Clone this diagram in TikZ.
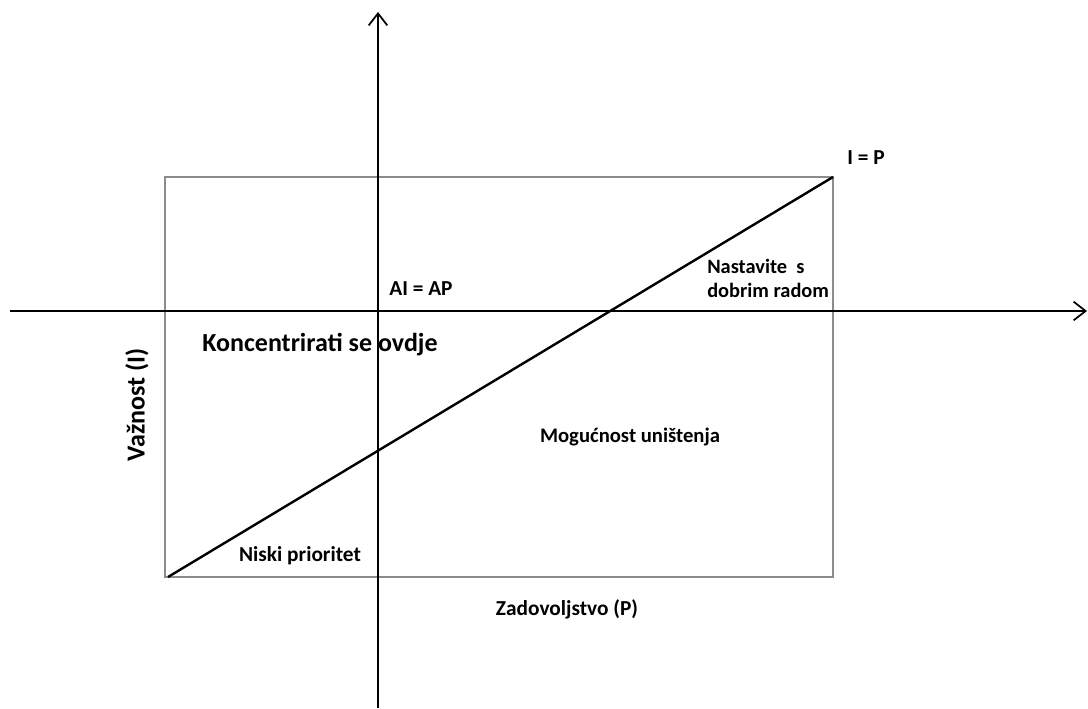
\documentclass[tikz,border=0pt]{standalone}
\usepackage{fontspec}
\setmainfont{Carlito}
\usetikzlibrary{arrows.meta}
\begin{document}
\begin{tikzpicture}[x=0.75pt,y=-0.75pt,
  axis/.style={line width=1.8pt,-{Straight Barb[length=9pt,width=14pt,line width=1.3pt]}},
  frame/.style={draw=black!45,line width=0.8pt},
  diag/.style={line width=1.8pt},
  lbl/.style={font=\bfseries\fontsize{16}{18}\selectfont,inner sep=0pt},
  biglbl/.style={font=\bfseries\fontsize{19.5}{22}\selectfont,inner sep=0pt}]
\useasboundingbox (0,0) rectangle (1088,708);
\coordinate (xs) at (10,311);
\coordinate (xe) at (1087,311);
\coordinate (ys) at (378,708);
\coordinate (ye) at (378,12);
\coordinate (bl) at (168,577);
\coordinate (tr) at (833,177);
\draw[frame] (165,177) rectangle (833,577);
\draw[diag] (bl) -- (tr);
\draw[axis] (xs) -- (xe);
\draw[axis] (ys) -- (ye);
\node[lbl] (ip) at (866,158) {I = P};
\node[lbl] (aiap) at (421,289) {AI = AP};
\node[lbl,anchor=west,align=left,font=\bfseries\fontsize{15.3}{18}\selectfont] (nast) at (707,278) {Nastavite\ \ s\\dobrim radom};
\node[biglbl] (konc) at (320,345) {Koncentrirati se ovdje};
\node[biglbl,rotate=90] (vaz) at (137,405) {Važnost (I)};
\node[lbl,font=\bfseries\fontsize{15.5}{18}\selectfont] (mog) at (630,437) {Mogućnost uništenja};
\node[lbl] (nisk) at (300,556) {Niski prioritet};
\node[lbl] (zad) at (567,609) {Zadovoljstvo (P)};
\end{tikzpicture}
\end{document}
